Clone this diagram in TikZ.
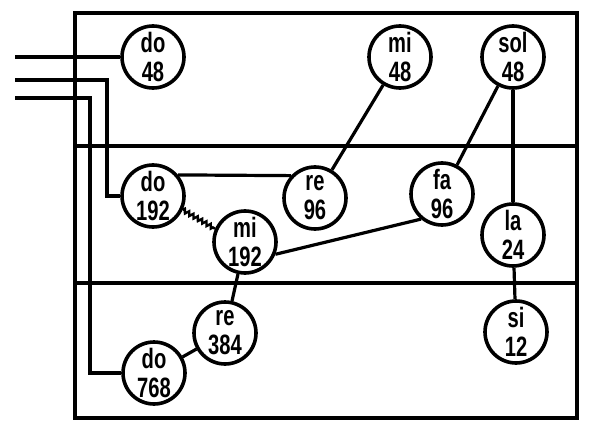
\documentclass[tikz,border=0pt]{standalone}
\usepackage{fontspec}
\newfontfamily\notefont[FakeStretch=0.72]{Liberation Sans}
\usepackage{tikz}
\usetikzlibrary{decorations.pathmorphing}

\begin{document}
\begin{tikzpicture}[x=0.5pt, y=-0.5pt,
    note/.style={circle, draw, line width=1.8pt, minimum size=31pt, inner sep=0pt,
      align=center, font=\notefont\bfseries\fontsize{14}{14.5}\selectfont},
    wire/.style={line width=1.6pt},
    hum/.style={line width=1.2pt, decorate, decoration={zigzag, amplitude=1pt, segment length=2.5pt}}]
  \useasboundingbox (0,0) rectangle (599,433);
  % frame and rows
  \draw[wire] (75,13) rectangle (577,418);
  \draw[wire] (75,146) -- (578,146);
  \draw[wire] (75,283) -- (578,283);
  % notes
  \node[note] (do48)  at (153,57)  {do\\48};
  \node[note] (mi48)  at (400,57)  {mi\\48};
  \node[note] (sol48) at (513,57)  {sol\\48};
  \node[note] (do192) at (153,196) {do\\192};
  \node[note] (re96)  at (315,198) {re\\96};
  \node[note] (fa96)  at (442,194) {fa\\96};
  \node[note] (mi192) at (245,242) {mi\\192};
  \node[note] (la24)  at (513,235) {la\\24};
  \node[note] (re384) at (225,333) {re\\384};
  \node[note] (si12)  at (516,332) {si\\12};
  \node[note] (do768) at (154,373) {do\\768};
  % inputs
  \coordinate (in1) at (15,57);
  \coordinate (in2) at (15,80);
  \coordinate (in3) at (15,98);
  \draw[wire] (in1) -- (do48.west);
  \draw[wire] (in2) -- (107,80) |- (do192);
  \draw[wire] (in3) -- (90,98) |- (do768);
  % links
  \draw[wire] (mi48) -- (re96);
  \draw[wire] (sol48) -- (fa96);
  \draw[wire] (sol48) -- (la24);
  \draw[wire] (la24) -- (si12);
  \draw[wire] (do192.40) -- (re96.137);
  \draw[wire] (mi192.-22) -- (fa96.230);
  \draw[hum] (do192.-25) -- (mi192.156);
  \draw[wire] (mi192) -- (re384);
  \draw[wire] (re384) -- (do768);
\end{tikzpicture}
\end{document}
